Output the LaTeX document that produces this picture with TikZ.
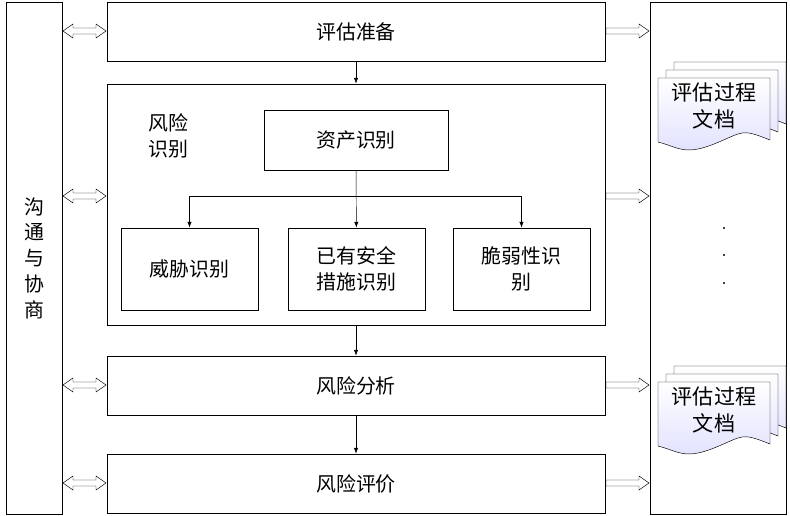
\documentclass[tikz,border=0pt]{standalone}
\usepackage{fontspec}
\newfontfamily\cjk{Noto Sans CJK SC}
\usetikzlibrary{arrows.meta}
\tikzset{>=Latex,
  box/.style={draw, thick, minimum width=#1, align=center, font=\cjk\fontsize{17}{22}\selectfont},
  hollow/.style={draw, thin, fill=white},
  docpage/.style={draw, thin, top color=white, bottom color=blue!12}}
\newcommand{\docpath}[2]{% sheet at #1,#2
  (#1,#2) -- ++(112,0) -- ++(0,62) .. controls ++(-30,-12) and ++(30,-12) .. ++(-56,4)
  .. controls ++(-30,12) and ++(20,5) .. ++(-56,-2) -- cycle}
% hollow arrows: from x #1 to x #2 at height #3
\newcommand{\hollowright}[3]{%
  \draw[hollow] (#1,#3-3) -- (#2-10,#3-3) -- (#2-10,#3-7) -- (#2,#3) -- (#2-10,#3+7)
    -- (#2-10,#3+3) -- (#1,#3+3) -- cycle;}
\newcommand{\hollowboth}[3]{%
  \draw[hollow] (#1,#3) -- (#1+10,#3-7) -- (#1+10,#3-3) -- (#2-10,#3-3) -- (#2-10,#3-7)
    -- (#2,#3) -- (#2-10,#3+7) -- (#2-10,#3+3) -- (#1+10,#3+3) -- (#1+10,#3+7) -- cycle;}
\begin{document}
\begin{tikzpicture}[x=0.03cm,y=-0.03cm]
        \useasboundingbox (0,0) rectangle (790,516);
        % Columns
        \node[box=56*0.03cm, minimum height=512*0.03cm] (talk) at (34,258) {沟\\通\\与\\协\\商};
        \draw[thick] (650,2) rectangle (786,514);
        % Main boxes
        \node[box=498*0.03cm, minimum height=59*0.03cm] (prep) at (356,31.5) {评估准备};
        \node[box=498*0.03cm, minimum height=241*0.03cm] (ident) at (356,204.5) {};
        \node[font=\cjk\fontsize{17}{22}\selectfont, align=left] (identlbl) at (168,136) {风险\\识别};
        \node[box=184*0.03cm, minimum height=60*0.03cm] (asset) at (356,140) {资产识别};
        \node[box=137*0.03cm, minimum height=82*0.03cm] (threat) at (189.5,269) {威胁识别};
        \node[box=137*0.03cm, minimum height=82*0.03cm] (measure) at (356.5,269) {已有安全\\措施识别};
        \node[box=137*0.03cm, minimum height=82*0.03cm] (vuln) at (521.5,269) {脆弱性识\\别};
        \node[box=498*0.03cm, minimum height=59*0.03cm] (analysis) at (356,385.5) {风险分析};
        \node[box=498*0.03cm, minimum height=59*0.03cm] (eval) at (356,483.5) {风险评价};
        % Flow arrows
        \draw[->] (prep) -- (ident);
        \draw[->] (ident) -- (analysis);
        \draw[->] (analysis) -- (eval);
        \coordinate (split) at (356,196);
        \draw[->] (asset) -- (measure);
        \draw[->] (split) -| (threat);
        \draw[->] (split) -| (vuln);
        % Hollow arrows
        \foreach \y in {31, 196, 385, 483} {
          \hollowboth{63}{106}{\y}
          \hollowright{606}{649}{\y}
        }
        % Documents
        \foreach \y in {78, 382} {
          \foreach \d in {16, 8, 0}
            \draw[docpage] \docpath{658+\d}{\y-\d};
          \node[font=\cjk\fontsize{18}{23}\selectfont, align=center] at (714,\y+28) {评估过程\\文档};
        }
        \foreach \y in {228, 255, 283}
          \fill (724,\y) circle (1.2);
      \end{tikzpicture}
\end{document}
